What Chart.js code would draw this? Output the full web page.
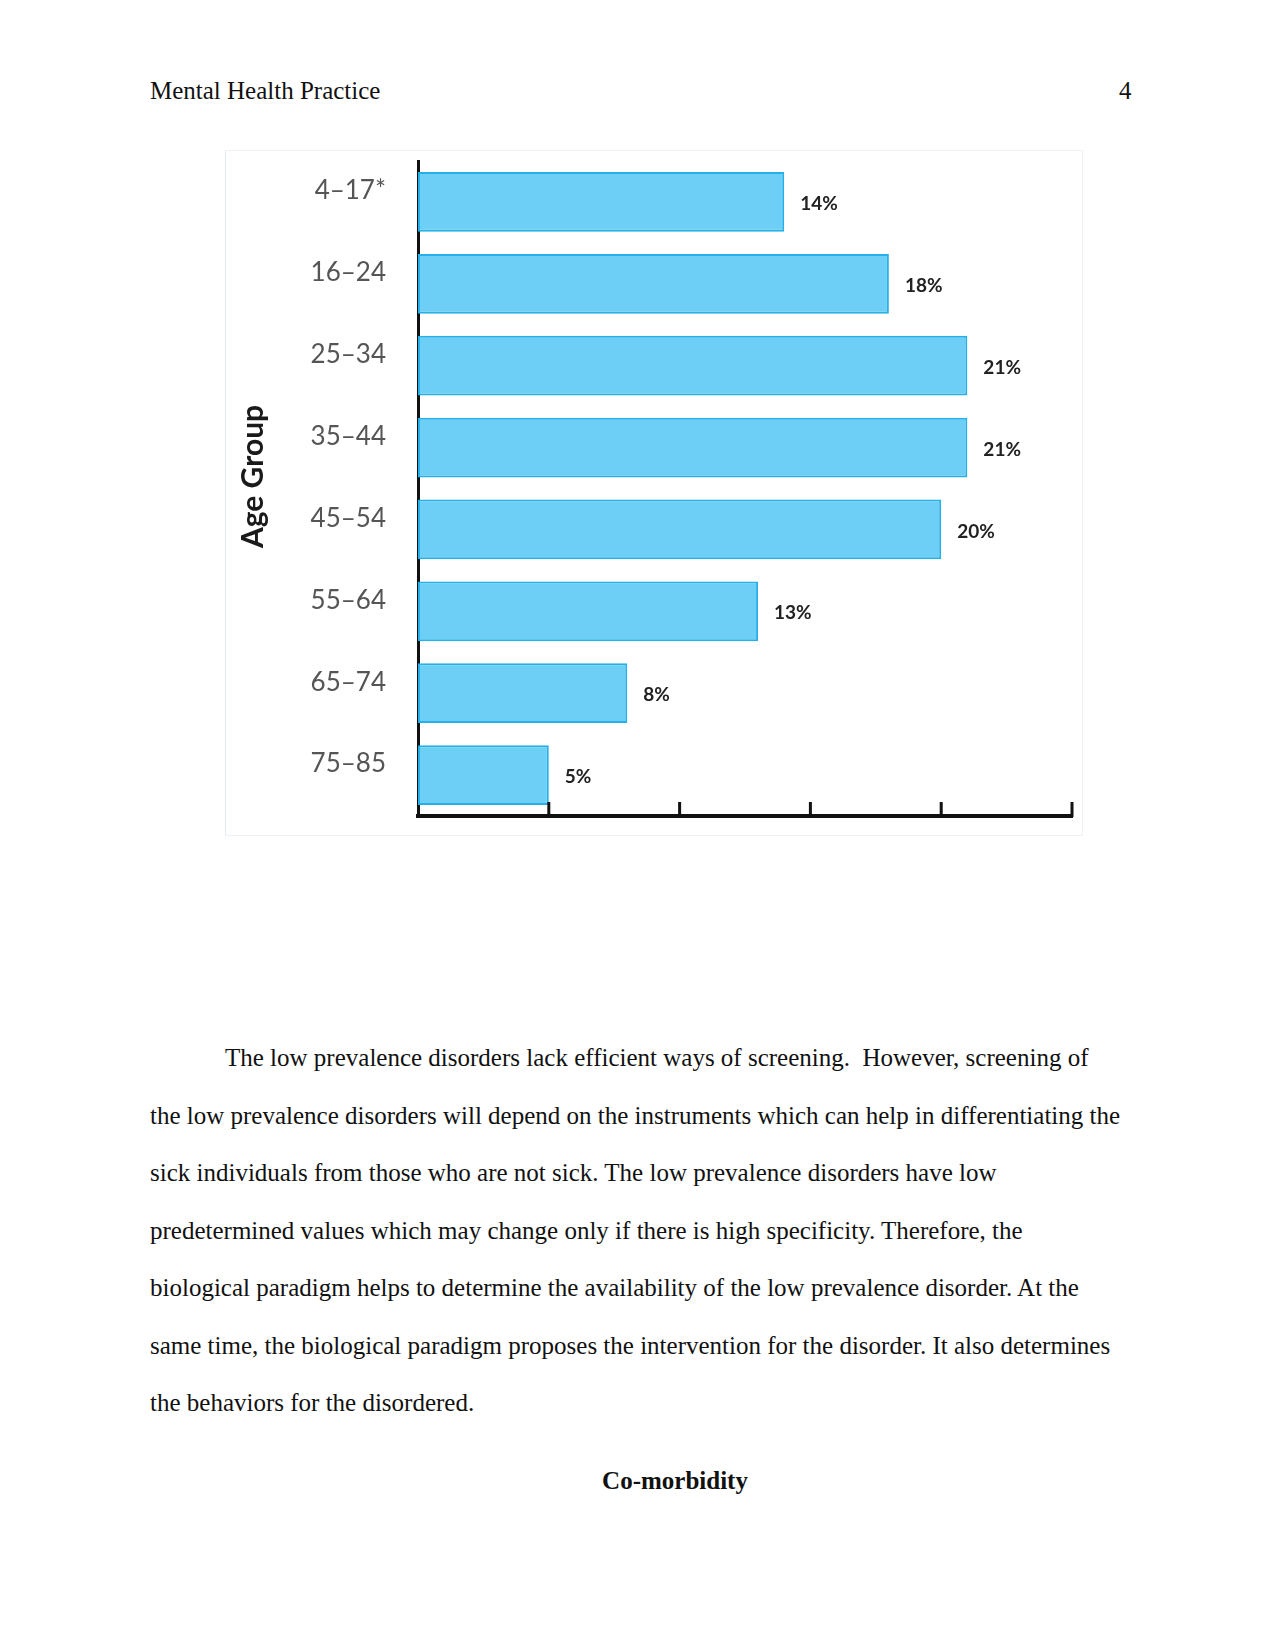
<!DOCTYPE html>
<html>
<head>
<meta charset="utf-8">
<script src="https://cdn.jsdelivr.net/npm/chart.js@4.4.1/dist/chart.umd.min.js"></script>
<style>
  body { margin: 0; background: #fff; width: 1275px; height: 1650px; position: relative; font-family: "Liberation Serif", "Times New Roman", serif; color: #111; }
  .hdr { position: absolute; top: 76px; font-size: 25px; line-height: 29px; }
  #chartBox { position: absolute; left: 225px; top: 150px; width: 858px; height: 686px; box-sizing: border-box; border: 1px solid #eef2f5; border-left-color: #dfeef8; }
  .para { position: absolute; left: 150px; top: 1029px; width: 980px; font-size: 25px; line-height: 57.5px; }
  .para div { white-space: pre; }
  .head { position: absolute; left: 225px; width: 900px; top: 1466px; text-align: center; font-size: 25px; font-weight: bold; line-height: 29px; }
</style>
</head>
<body>
<div class="hdr" style="left:150px">Mental Health Practice</div>
<div class="hdr" style="left:1119px">4</div>

<div id="chartBox"><canvas id="ageChart"></canvas></div>

<div class="para">
  <div style="padding-left:75px">The low prevalence disorders lack efficient ways of screening.  However, screening of</div>
  <div>the low prevalence disorders will depend on the instruments which can help in differentiating the</div>
  <div>sick individuals from those who are not sick. The low prevalence disorders have low</div>
  <div>predetermined values which may change only if there is high specificity. Therefore, the</div>
  <div>biological paradigm helps to determine the availability of the low prevalence disorder. At the</div>
  <div>same time, the biological paradigm proposes the intervention for the disorder. It also determines</div>
  <div>the behaviors for the disordered.</div>
</div>
<div class="head">Co-morbidity</div>

<script>
// Age groups and share (%)
const ageGroups = ['4–17*', '16–24', '25–34', '35–44', '45–54', '55–64', '65–74', '75–85'];
const percentValues = [14, 18, 21, 21, 20, 13, 8, 5];
const xTickValues = [5, 10, 15, 20, 25];
const axisTitle = 'Age Group';

// Draws the "14%" style labels right of each bar
const valueLabels = {
    id: 'valueLabels',
    afterDatasetsDraw(chart) {
        const ctx = chart.ctx;
        const meta = chart.getDatasetMeta(0);
        ctx.save();
        ctx.font = 'bold 19px Lato, sans-serif';
        ctx.fillStyle = '#222';
        ctx.textAlign = 'left';
        ctx.textBaseline = 'middle';
        meta.data.forEach((bar, i) => {
            ctx.fillText(percentValues[i] + '%', bar.x + 16, bar.y + 2);
        });
        ctx.restore();
    }
};

// Tick marks on the x axis point up into the plot, so draw them here
// (also the rotated axis title, which sits a bit above the middle)
const innerTicks = {
    id: 'innerTicks',
    afterDraw(chart) {
        const ctx = chart.ctx;
        const xScale = chart.scales.x;
        const area = chart.chartArea;
        ctx.save();
        ctx.strokeStyle = '#111';
        ctx.lineWidth = 3;
        xTickValues.forEach(v => {
            const px = xScale.getPixelForValue(v);
            ctx.beginPath();
            ctx.moveTo(px, area.bottom + 1);
            ctx.lineTo(px, area.bottom - 14);
            ctx.stroke();
        });

        ctx.translate(27, (area.top + area.bottom) / 2 - 12);
        ctx.rotate(-Math.PI / 2);
        ctx.font = 'bold 30px Lato, sans-serif';
        ctx.fillStyle = '#1a1a1a';
        ctx.textAlign = 'center';
        ctx.textBaseline = 'middle';
        ctx.fillText(axisTitle, 0, 0);
        ctx.restore();
    }
};

const ctx = document.getElementById('ageChart').getContext('2d');
const ageChart = new Chart(ctx, {
    type: 'bar',
    data: {
        labels: ageGroups,
        datasets: [{
            label: 'Share',
            data: percentValues,
            backgroundColor: 'rgb(109, 207, 246)',
            borderColor: 'rgb(38, 176, 232)',
            borderWidth: 2,
            borderSkipped: false,
            categoryPercentage: 0.73,
            barPercentage: 1.0
        }]
    },
    options: {
        indexAxis: 'y',
        responsive: true,
        maintainAspectRatio: false,
        animation: false,
        layout: { padding: { top: 10, right: 10, bottom: 19, left: 0 } },
        plugins: {
            legend: { display: false },
            tooltip: { enabled: false }
        },
        scales: {
            x: {
                min: 0,
                max: 25,
                ticks: { display: false, stepSize: 5 },
                grid: { display: false },
                border: { display: true, color: '#111', width: 4 },
                afterFit(scale) { scale.height = 0; scale.paddingLeft = 0; scale.paddingRight = 0; }
            },
            y: {
                grid: { display: false },
                border: { display: true, color: '#111', width: 3 },
                ticks: {
                    color: '#555',
                    padding: 24,
                    labelOffset: -11,
                    font: { family: 'Lato, sans-serif', size: 26 }
                },
                afterFit(scale) { scale.width = 192; scale.paddingTop = 0; scale.paddingBottom = 0; }
            }
        }
    },
    plugins: [valueLabels, innerTicks]
});
</script>
</body>
</html>
